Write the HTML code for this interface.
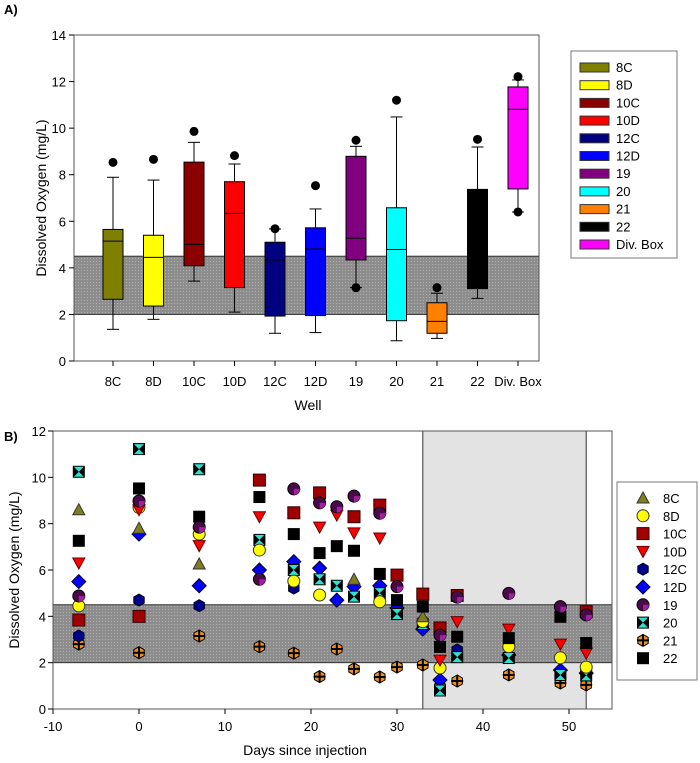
<!DOCTYPE html>
<html><head><meta charset="utf-8"><style>
body{margin:0;background:#fff}
svg{display:block;font-family:"Liberation Sans",Arial,sans-serif}
</style></head><body>
<svg id="chart" width="700" height="763" viewBox="0 0 700 763" xmlns="http://www.w3.org/2000/svg">
<defs>
<pattern id="dots" width="3" height="3" patternUnits="userSpaceOnUse"><rect width="3" height="3" fill="#8d8d8d"/><rect width="1" height="1" fill="#b0b0b0"/></pattern>
</defs>
<text x="4" y="14" font-size="13" font-weight="bold">A)</text>
<text x="4" y="441" font-size="13" font-weight="bold">B)</text>
<g id="panelA"></g>
<g id="panelB"></g>
</svg>
<script>
// ---- Panel A data ----
const wells = ["8C","8D","10C","10D","12C","12D","19","20","21","22","Div. Box"];
const boxColors = ["#7f7f00","#ffff00","#8b0000","#ff0000","#000080","#0000ff","#800080","#00ffff","#ff8000","#000000","#ff00ff"];
const whiskerHigh = [7.89,7.77,9.39,8.46,5.67,6.53,9.22,10.48,2.91,9.19,12.07];
const q3 = [5.65,5.4,8.54,7.7,5.1,5.72,8.79,6.58,2.5,7.37,11.77];
const median = [5.15,4.45,5.01,6.34,4.34,4.81,5.27,4.79,1.7,5.2,10.81];
const q1 = [2.65,2.36,4.09,3.15,1.93,1.95,4.34,1.73,1.19,3.11,7.39];
const whiskerLow = [1.36,1.79,3.43,2.1,1.19,1.22,3.15,0.87,0.97,2.69,6.4];
const outliersHigh = [8.53,8.66,9.86,8.82,5.68,7.53,9.48,11.2,3.15,9.52,12.21];
const outliersLow = [null,null,null,null,null,null,3.15,null,null,null,6.4];
const yTicksA = [0,2,4,6,8,10,12,14];

// ---- Panel B data ----
const days = [-7,0,7,14,18,21,23,25,28,30,33,35,37,43,49,52];
const seriesNames = ["8C","8D","10C","10D","12C","12D","19","20","21","22"];
const s8C  = [8.6,7.8,6.26,null,null,null,null,5.6,null,null,3.98,null,null,null,null,null];
const s8D  = [4.45,8.7,7.55,6.86,5.52,4.92,null,null,4.63,null,3.77,1.77,null,2.69,2.21,1.81];
const s10C = [3.84,4.0,null,9.88,8.47,9.33,null,8.3,8.8,5.78,4.96,3.5,4.9,null,null,4.2];
const s10D = [6.3,8.6,7.05,8.3,null,7.85,8.37,7.6,7.38,null,null,2.11,3.77,3.45,2.8,2.41];
const s12C = [3.15,4.7,4.46,null,5.22,null,null,null,null,null,null,null,2.55,null,null,null];
const s12D = [5.5,7.55,5.32,6.0,6.36,6.08,4.7,5.28,5.32,4.36,3.45,1.25,null,2.33,1.68,1.55];
const s19  = [4.88,8.98,7.85,5.6,9.5,8.9,8.73,9.19,8.45,5.28,null,3.19,4.83,4.99,4.42,4.06];
const s20  = [10.24,11.22,10.35,7.3,6.0,5.6,5.32,4.85,5.0,4.1,3.67,0.8,2.24,2.2,1.47,1.45];
const s21  = [2.8,2.43,3.15,2.69,2.41,1.4,2.59,1.73,1.38,1.81,1.9,0.96,1.21,1.47,1.12,1.04];
const s22  = [7.26,9.52,8.3,9.15,7.55,6.73,7.03,6.83,5.83,4.7,4.42,2.68,3.12,3.06,3.98,2.85];
const xTicksB = [-10,0,10,20,30,40,50];
const yTicksB = [0,2,4,6,8,10,12];

const NS="http://www.w3.org/2000/svg";
function mk(parent,tag,attrs,text){const e=document.createElementNS(NS,tag);for(const k in attrs)e.setAttribute(k,attrs[k]);if(text!==undefined)e.textContent=text;parent.appendChild(e);return e;}

// ---- Panel A ----
const gA=document.getElementById('panelA');
const ax0=74, ax1=539, ay0=361, ay1=35;
const yA=v=>ay0-(v/14)*(ay0-ay1);
const xA=i=>113+i*40.5;
let band=mk(gA,'rect',{x:ax0,y:yA(4.5),width:ax1-ax0,height:yA(2)-yA(4.5),fill:'url(#dots)',stroke:'#333','stroke-width':1});


mk(gA,'rect',{x:ax0,y:ay1,width:ax1-ax0,height:ay0-ay1,fill:'none',stroke:'#555','stroke-width':1});
yTicksA.forEach(t=>{
  mk(gA,'line',{x1:ax0-5,x2:ax0,y1:yA(t),y2:yA(t),stroke:'#000'});
  const l=mk(gA,'text',{x:ax0-8,y:yA(t)+5,'font-size':13,'text-anchor':'end'},String(t));
  
  
});
wells.forEach((w,i)=>{
  const x=xA(i), hw=10, cw=6;
  const g=mk(gA,'g',{});
  
  
  mk(g,'line',{x1:x,x2:x,y1:yA(whiskerHigh[i]),y2:yA(q3[i]),stroke:'#000'});
  mk(g,'line',{x1:x-cw,x2:x+cw,y1:yA(whiskerHigh[i]),y2:yA(whiskerHigh[i]),stroke:'#000'});
  mk(g,'line',{x1:x,x2:x,y1:yA(q1[i]),y2:yA(whiskerLow[i]),stroke:'#000'});
  mk(g,'line',{x1:x-cw,x2:x+cw,y1:yA(whiskerLow[i]),y2:yA(whiskerLow[i]),stroke:'#000'});
  mk(g,'rect',{x:x-hw,y:yA(q3[i]),width:2*hw,height:yA(q1[i])-yA(q3[i]),fill:boxColors[i],stroke:'#000'});
  mk(g,'line',{x1:x-hw,x2:x+hw,y1:yA(median[i]),y2:yA(median[i]),stroke:'#000'});
  mk(g,'circle',{cx:x,cy:yA(outliersHigh[i]),r:4.5,fill:'#000'});
  if(outliersLow[i]!==null) mk(g,'circle',{cx:x,cy:yA(outliersLow[i]),r:4.5,fill:'#000'});
  mk(gA,'line',{x1:x,x2:x,y1:ay0,y2:ay0+5,stroke:'#000'});
  const l=mk(gA,'text',{x:x,y:ay0+25,'font-size':13,'text-anchor':'middle'},w);
  
  
});
let t1=mk(gA,'text',{x:308,y:410,'font-size':14,'text-anchor':'middle'},'Well');


let t2=mk(gA,'text',{x:0,y:0,'font-size':14,'text-anchor':'middle',transform:'translate(46,198) rotate(-90)'},'Dissolved Oxygen (mg/L)');


const lgA=mk(gA,'g',{});


mk(lgA,'rect',{x:571,y:51,width:106,height:207,fill:'#fff',stroke:'#777'});
wells.forEach((w,i)=>{
  const y=67+i*17.7;
  const e=mk(lgA,'g',{});
  
  
  mk(e,'rect',{x:580,y:y-4,width:29,height:9,fill:boxColors[i],stroke:'#333'});
  mk(e,'text',{x:616,y:y+5,'font-size':13},w);
});

// ---- Panel B ----
const gB=document.getElementById('panelB');
const bx0=53, by0=709, by1=431;
const xB=d=>139+d*8.6;
const yB=v=>by0-(v/12)*(by0-by1);
const bx1=xB(55);
let shade=mk(gB,'rect',{x:xB(33),y:by1,width:xB(52)-xB(33),height:by0-by1,fill:'#e3e3e3',stroke:'#333'});


let band2=mk(gB,'rect',{x:bx0,y:yB(4.5),width:bx1-bx0,height:yB(2)-yB(4.5),fill:'url(#dots)',stroke:'#333'});


mk(gB,'rect',{x:bx0,y:by1,width:bx1-bx0,height:by0-by1,fill:'none',stroke:'#555'});
yTicksB.forEach(t=>{
  mk(gB,'line',{x1:bx0-5,x2:bx0,y1:yB(t),y2:yB(t),stroke:'#000'});
  const l=mk(gB,'text',{x:bx0-7,y:yB(t)+5,'font-size':13,'text-anchor':'end'},String(t));
  
  
});
xTicksB.forEach(t=>{
  mk(gB,'line',{x1:xB(t),x2:xB(t),y1:by0,y2:by0+5,stroke:'#000'});
  const l=mk(gB,'text',{x:xB(t),y:by0+22,'font-size':13,'text-anchor':'middle'},String(t));
  
  
});
let t3=mk(gB,'text',{x:305,y:755,'font-size':14,'text-anchor':'middle'},'Days since injection');


let t4=mk(gB,'text',{x:0,y:0,'font-size':14,'text-anchor':'middle',transform:'translate(19,570) rotate(-90)'},'Dissolved Oxygen (mg/L)');



function hexPts(x,y,s){let p=[];for(let k=0;k<6;k++){const a=Math.PI/6+k*Math.PI/3;p.push((x+s*Math.cos(a)).toFixed(1)+','+(y+s*Math.sin(a)).toFixed(1));}return p.join(' ');}
function drawMarker(g,type,x,y){
  const s=6;
  switch(type){
    case '8C': mk(g,'polygon',{points:`${x},${y-s} ${x+s},${y+s-1} ${x-s},${y+s-1}`,fill:'#7f7f20',stroke:'#333'});break;
    case '8D': mk(g,'circle',{cx:x,cy:y,r:s,fill:'#ffff00',stroke:'#333'});break;
    case '10C': mk(g,'rect',{x:x-s,y:y-s,width:2*s,height:2*s,fill:'#a00000',stroke:'#300'});break;
    case '10D': mk(g,'polygon',{points:`${x-s},${y-s+1} ${x+s},${y-s+1} ${x},${y+s}`,fill:'#ff0000',stroke:'#600'});break;
    case '12C': mk(g,'polygon',{points:hexPts(x,y,s),fill:'#000090',stroke:'#001'});break;
    case '12D': mk(g,'polygon',{points:`${x},${y-s-1} ${x+s+1},${y} ${x},${y+s+1} ${x-s-1},${y}`,fill:'#0000ff',stroke:'#002'});break;
    case '19': mk(g,'circle',{cx:x,cy:y,r:s,fill:'#4a0a4a',stroke:'#000'});mk(g,'path',{d:`M${x},${y} L${x+s},${y} A${s},${s} 0 0 1 ${x},${y+s}Z`,fill:'#a020a0'});break;
    case '20': mk(g,'rect',{x:x-s,y:y-s,width:2*s,height:2*s,fill:'#000'});mk(g,'polygon',{points:`${x-s+1},${y-s+1} ${x+s-1},${y-s+1} ${x},${y} ${x+s-1},${y+s-1} ${x-s+1},${y+s-1} ${x},${y}`,fill:'#30e0d0'});break;
    case '21': mk(g,'polygon',{points:hexPts(x,y,s),fill:'#f09020',stroke:'#000'});mk(g,'path',{d:`M${x},${y-s} L${x},${y+s} M${x-s},${y} L${x+s},${y}`,stroke:'#000','stroke-width':2});break;
    case '22': mk(g,'rect',{x:x-s,y:y-s,width:2*s,height:2*s,fill:'#000'});break;
  }
}

const allSeries=[s8C,s8D,s10C,s10D,s12C,s12D,s19,s20,s21,s22];
const drawOrder=[8,4,5,7,1,0,3,9,2,6];
drawOrder.forEach(si=>{
  const g=mk(gB,'g',{});
  
  
  allSeries[si].forEach((v,j)=>{ if(v!==null) drawMarker(g,seriesNames[si],xB(days[j]),yB(v)); });
});
const lgB=mk(gB,'g',{});


mk(lgB,'rect',{x:617,y:482,width:80,height:198,fill:'#fff',stroke:'#777'});
seriesNames.forEach((n,i)=>{
  const y=498+i*17.8;
  const e=mk(lgB,'g',{});
  
  
  drawMarker(e,n,643,y);
  mk(e,'text',{x:663,y:y+5,'font-size':13},n);
});
</script>
</body></html>
